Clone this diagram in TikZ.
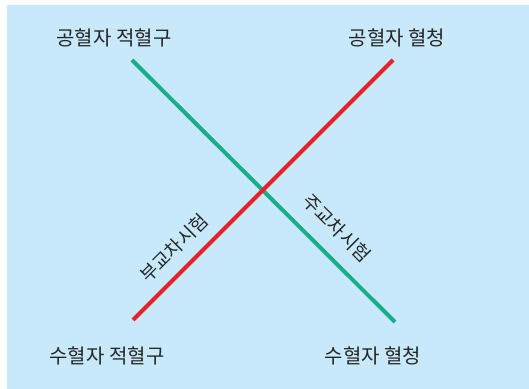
\documentclass[tikz,border=0pt]{standalone}
\usepackage{fontspec}
\newfontfamily\kofont{Noto Sans CJK KR}
\usepackage{xcolor}
\usetikzlibrary{positioning}

\definecolor{bgblue}{RGB}{200,233,251}
\definecolor{linegreen}{RGB}{26,174,136}
\definecolor{linered}{RGB}{232,34,40}

\begin{document}
\begin{tikzpicture}[x=0.75pt, y=0.75pt,
    lbl/.style={font=\kofont\fontsize{14}{16}\selectfont, text=black!85, inner sep=1pt},
    corner/.style={lbl, font=\kofont\fontsize{15}{17}\selectfont},
    cross/.style={line width=3pt}]
    % =================================================================
    % 1. Nền
    % =================================================================
    \useasboundingbox (0,0) rectangle (529,389);
    \fill[bgblue] (7,0) rectangle (529,384);

    % Nhãn bốn góc
    \node[corner] (donorRbc) at (114,351) {공혈자 적혈구};
    \node[corner] (donorSer) at (397,351) {공혈자 혈청};
    \node[corner] (recipRbc) at (107,33) {수혈자 적혈구};
    \node[corner] (recipSer) at (373,33) {수혈자 혈청};

    % Đầu mút các đường
    \coordinate (gTop) at (132,329);
    \coordinate (gBot) at (395,67);
    \coordinate (rBot) at (133,69);
    \coordinate (rTop) at (393,329);

    % =================================================================
    % 2. Hai đường chéo
    % =================================================================
    \draw[cross, linegreen] (gTop) -- (gBot);
    \draw[cross, linered] (rBot) -- (rTop);

    % Nhãn dọc theo đường
    \node[lbl, rotate=45] (minorTest) at (174,141) {부교차시험};
    \node[lbl, rotate=-45] (majorTest) at (337,161) {주교차시험};
\end{tikzpicture}
\end{document}
